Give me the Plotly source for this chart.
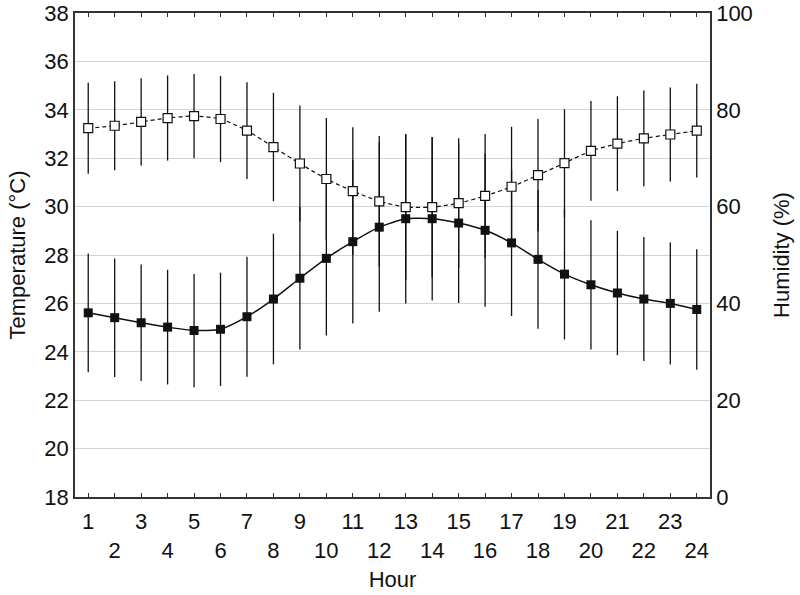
import plotly.graph_objects as go

hours = list(range(1, 25))
hour_labels = [str(h) if h % 2 == 1 else "<br>" + str(h) for h in hours]

temperature = [25.61, 25.41, 25.20, 25.02, 24.88, 24.93, 25.45, 26.18, 27.04, 27.86, 28.55, 29.15,
               29.50, 29.50, 29.32, 29.02, 28.50, 27.82, 27.21, 26.77, 26.43, 26.18, 26.00, 25.75]
temperature_sd = [2.45, 2.45, 2.41, 2.37, 2.34, 2.34, 2.48, 2.70, 2.94, 3.19, 3.38, 3.50,
                  3.50, 3.38, 3.30, 3.16, 3.02, 2.87, 2.70, 2.67, 2.57, 2.56, 2.52, 2.49]

humidity = [76.2, 76.7, 77.5, 78.3, 78.7, 78.1, 75.7, 72.3, 68.9, 65.7, 63.2, 61.1,
            59.9, 59.9, 60.7, 62.2, 64.1, 66.5, 69.0, 71.5, 73.0, 74.1, 74.9, 75.7]
humidity_sd = [9.4, 9.2, 9.0, 8.8, 8.7, 8.9, 10.0, 11.2, 12.0, 12.6, 13.2, 13.5,
               15.0, 14.5, 13.4, 12.8, 12.4, 11.6, 11.1, 10.3, 9.8, 9.9, 9.7, 9.7]

FONT = "Liberation Sans, Arial, sans-serif"
INK = "#111111"
FS = 22

fig = go.Figure()

fig.add_trace(go.Scatter(
    x=hours, y=humidity, yaxis="y2", mode="lines+markers",
    line=dict(color=INK, width=1.2, dash="4px,3px", shape="spline", smoothing=0.6),
    marker=dict(symbol="square", size=9, color="white", line=dict(color=INK, width=1.2)),
    error_y=dict(type="data", array=humidity_sd, visible=True, color=INK, thickness=1.3, width=0),
    name="Humidity", showlegend=False,
))

fig.add_trace(go.Scatter(
    x=hours, y=temperature, mode="lines+markers",
    line=dict(color=INK, width=1.5, shape="spline", smoothing=0.6),
    marker=dict(symbol="square", size=9, color=INK),
    error_y=dict(type="data", array=temperature_sd, visible=True, color=INK, thickness=1.3, width=0),
    name="Temperature", showlegend=False,
))

fig.update_layout(
    width=800, height=595,
    margin=dict(l=75, r=90, t=13, b=98, autoexpand=False),
    paper_bgcolor="white", plot_bgcolor="white",
    font=dict(family=FONT, size=FS, color=INK),
    xaxis=dict(
        range=[0.5, 24.5], tickmode="array", tickvals=hours, ticktext=hour_labels,
        tickangle=0, ticklabelstandoff=4,
        ticks="inside", ticklen=4, tickwidth=1, tickcolor="#333",
        showline=True, linecolor="#333", linewidth=1.5, mirror="ticks",
        showgrid=False, zeroline=False, automargin=False,
        title=dict(text="Hour", standoff=10, font=dict(size=FS)),
        tickfont=dict(size=FS),
    ),
    yaxis=dict(
        range=[18, 38], dtick=2, tick0=18, ticklabeloverflow="allow",
        showline=True, linecolor="#333", linewidth=1.5,
        showgrid=True, gridcolor="#d4d4d4", gridwidth=1,
        zeroline=False, ticks="", automargin=False,
        title=dict(text="Temperature (°C)", standoff=13, font=dict(size=FS)),
        tickfont=dict(size=FS),
    ),
    yaxis2=dict(
        range=[0, 100], dtick=20, tick0=0, overlaying="y", side="right",
        ticklabeloverflow="allow",
        showline=True, linecolor="#333", linewidth=1.5,
        showgrid=False, zeroline=False, ticks="", automargin=False,
        title=dict(text="Humidity (%)", standoff=22, font=dict(size=FS)),
        tickfont=dict(size=FS),
    ),
)

fig.write_html("out.html", config={"displayModeBar": False},
               post_script="document.body.style.margin='0px';")
